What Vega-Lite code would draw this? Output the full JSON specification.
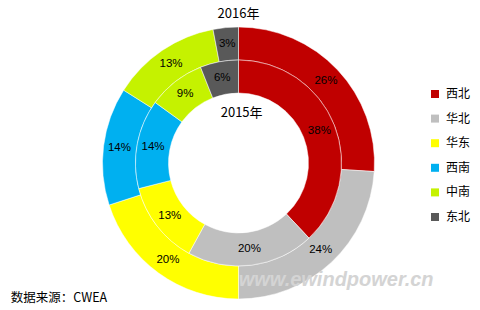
{
  "$schema": "https://vega.github.io/schema/vega-lite/v6.json",
  "width": 477,
  "height": 292,
  "autosize": {"type": "none"},
  "padding": {"left": 0, "top": 17, "right": 3, "bottom": 1},
  "background": "#ffffff",
  "config": {"view": {"stroke": null}},
  "datasets": {
    "share": [
      {"year": "2016", "region": "西北", "value": 0.26, "idx": 1},
      {"year": "2016", "region": "华北", "value": 0.24, "idx": 2},
      {"year": "2016", "region": "华东", "value": 0.20, "idx": 3},
      {"year": "2016", "region": "西南", "value": 0.14, "idx": 4},
      {"year": "2016", "region": "中南", "value": 0.13, "idx": 5},
      {"year": "2016", "region": "东北", "value": 0.03, "idx": 6},
      {"year": "2015", "region": "西北", "value": 0.38, "idx": 1},
      {"year": "2015", "region": "华北", "value": 0.20, "idx": 2},
      {"year": "2015", "region": "华东", "value": 0.13, "idx": 3},
      {"year": "2015", "region": "西南", "value": 0.14, "idx": 4},
      {"year": "2015", "region": "中南", "value": 0.09, "idx": 5},
      {"year": "2015", "region": "东北", "value": 0.06, "idx": 6}
    ]
  },
  "data": {"name": "share"},
  "layer": [
    {
      "transform": [{"filter": "datum.year == '2016'"}],
      "mark": {"type": "arc", "radius": 136, "radius2": 103, "stroke": "#ffffff", "strokeWidth": 0.5},
      "encoding": {
        "theta": {"field": "value", "type": "quantitative", "stack": true},
        "order": {"field": "idx", "type": "quantitative"},
        "color": {
          "field": "region",
          "type": "nominal",
          "sort": ["西北", "华北", "华东", "西南", "中南", "东北"],
          "scale": {
            "domain": ["西北", "华北", "华东", "西南", "中南", "东北"],
            "range": ["#C00000", "#BFBFBF", "#FFFF00", "#00B0F0", "#C5F200", "#595959"]
          },
          "legend": {
            "orient": "none",
            "legendX": 429,
            "legendY": 71,
            "title": null,
            "symbolType": "square",
            "symbolSize": 64,
            "symbolStrokeWidth": 0,
            "labelFont": "Noto Sans CJK SC",
            "labelFontSize": 12,
            "labelColor": "#000000",
            "rowPadding": 12.6,
            "labelOffset": 5
          }
        }
      }
    },
    {
      "transform": [{"filter": "datum.year == '2015'"}],
      "mark": {"type": "arc", "radius": 103, "radius2": 70, "stroke": "#ffffff", "strokeWidth": 0.5},
      "encoding": {
        "theta": {"field": "value", "type": "quantitative", "stack": true},
        "order": {"field": "idx", "type": "quantitative"},
        "color": {"field": "region", "type": "nominal", "sort": ["西北", "华北", "华东", "西南", "中南", "东北"]}
      }
    },
    {
      "transform": [{"filter": "datum.year == '2016'"}],
      "mark": {"type": "text", "radius": 120, "font": "Liberation Sans", "fontSize": 11.5, "color": "#000000", "align": "center", "baseline": "middle"},
      "encoding": {
        "theta": {"field": "value", "type": "quantitative", "stack": true},
        "order": {"field": "idx", "type": "quantitative"},
        "text": {"field": "value", "type": "quantitative", "format": ".0%"}
      }
    },
    {
      "transform": [{"filter": "datum.year == '2015'"}],
      "mark": {"type": "text", "radius": 87, "font": "Liberation Sans", "fontSize": 11.5, "color": "#000000", "align": "center", "baseline": "middle"},
      "encoding": {
        "theta": {"field": "value", "type": "quantitative", "stack": true},
        "order": {"field": "idx", "type": "quantitative"},
        "text": {"field": "value", "type": "quantitative", "format": ".0%"}
      }
    },
    {
      "data": {"values": [{"label": "2016年"}]},
      "mark": {"type": "text", "radius": 149, "font": "Noto Sans CJK SC", "fontSize": 13, "color": "#000000", "align": "center", "baseline": "middle"},
      "encoding": {
        "theta": {"datum": 0, "type": "quantitative"},
        "text": {"field": "label"}
      }
    },
    {
      "data": {"values": [{"label": "2015年"}]},
      "mark": {"type": "text", "radius": 50, "font": "Noto Sans CJK SC", "fontSize": 13, "color": "#000000", "align": "center", "baseline": "middle"},
      "encoding": {
        "theta": {"datum": 0.01, "type": "quantitative"},
        "text": {"field": "label"}
      }
    },
    {
      "data": {"values": [{"label": "www.ewindpower.cn"}]},
      "mark": {"type": "text", "radius": 152, "font": "Liberation Sans", "fontSize": 20, "fontWeight": "bold", "fontStyle": "italic", "color": "#D4D4D4", "align": "center", "baseline": "middle"},
      "encoding": {
        "theta": {"datum": 0.389, "type": "quantitative"},
        "text": {"field": "label"}
      }
    },
    {
      "data": {"values": [{"label": "数据来源：CWEA"}]},
      "mark": {"type": "text", "radius": 265, "font": "Noto Sans CJK SC", "fontSize": 12.5, "color": "#000000", "align": "left", "baseline": "middle"},
      "encoding": {
        "theta": {"datum": 0.6646, "type": "quantitative"},
        "text": {"field": "label"}
      }
    }
  ]
}
